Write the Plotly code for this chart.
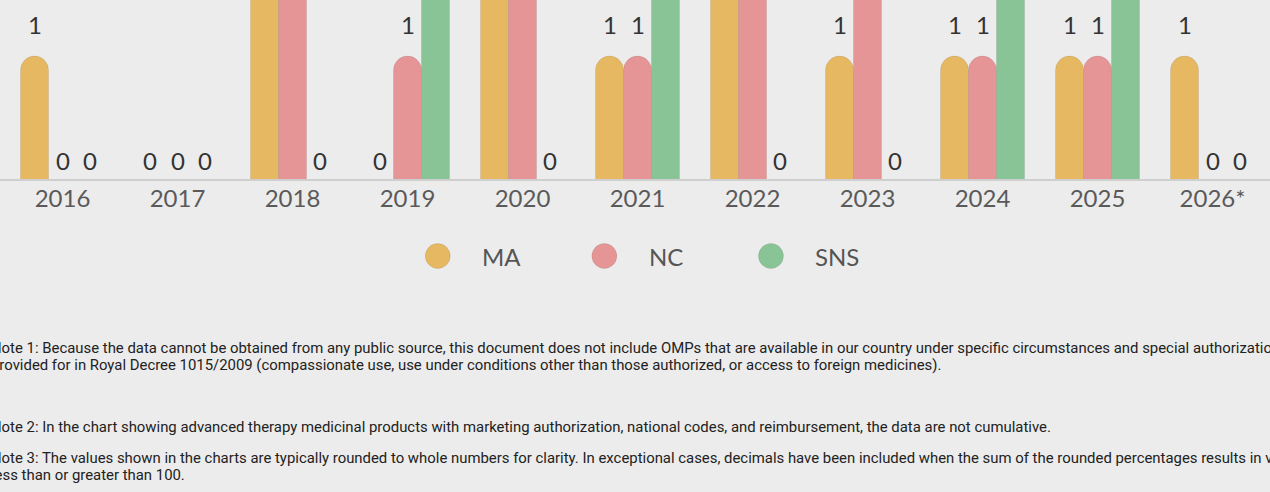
import plotly.graph_objects as go

# data (bars above ~1.45 run off the top of the visible area)
years = ["2016", "2017", "2018", "2019", "2020", "2021", "2022", "2023", "2024", "2025", "2026*"]
ma = [1, 0, 2, 0, 2, 1, 2, 1, 1, 1, 1]
nc = [0, 0, 2, 1, 2, 1, 2, 2, 1, 1, 0]
sns = [0, 0, 0, 2, 0, 3, 0, 0, 3, 2, 0]

series = ["MA", "NC", "SNS"]
colors = ["#E6B862", "#E59595", "#89C497"]

notes = [
    "Note 1: Because the data cannot be obtained from any public source, this document does not include OMPs that are available in our country under specific circumstances and special authorization as",
    "provided for in Royal Decree 1015/2009 (compassionate use, use under conditions other than those authorized, or access to foreign medicines).",
    "Note 2: In the chart showing advanced therapy medicinal products with marketing authorization, national codes, and reimbursement, the data are not cumulative.",
    "Note 3: The values shown in the charts are typically rounded to whole numbers for clarity. In exceptional cases, decimals have been included when the sum of the rounded percentages results in values",
    "less than or greater than 100.",
]

bg = "#ECECEC"
chart_font = "Lato"
slot_px = [-27.5, 0, 27.5]  # bar centre offsets inside each year group

fig = go.Figure()
for name, vals, col, dx in zip(series, [ma, nc, sns], colors, slot_px):
    fig.add_trace(go.Bar(
        x=years, y=vals, name=name,
        marker=dict(color=col, line=dict(color="rgba(0,0,0,0.08)", width=1)),
        cliponaxis=True, showlegend=False,
    ))
    # value labels: zeros sit right on the axis, the others float a bit higher
    # (category index used for x, "2016" etc. would be read as numbers)
    for i, v in enumerate(vals):
        fig.add_annotation(
            x=i, y=v, xshift=dx, yshift=(15 if v else 3), yanchor="bottom",
            text=str(v), showarrow=False,
            font=dict(family=chart_font, size=24, color="#333333"),
        )

fig.update_layout(
    width=1270, height=492,
    margin=dict(l=5, r=0, t=0, b=312),
    paper_bgcolor=bg, plot_bgcolor=bg,
    barmode="group", bargap=0.27, bargroupgap=0,
    barcornerradius=14,
    showlegend=False,
)
fig.update_xaxes(
    type="category", range=[-0.5, len(years) - 0.5],
    showgrid=False, ticks="", showline=False,
    ticklabelstandoff=2,
    tickfont=dict(family=chart_font, size=24, color="#5A5A5A"),
)
fig.update_yaxes(range=[0, 1.452], visible=False, showgrid=False, zeroline=False)

# baseline runs the full page width
fig.add_shape(type="line", xref="paper", yref="paper", x0=-0.005, x1=1, y0=0, y1=0,
              line=dict(color="#CFCFCF", width=2), layer="above")

# legend drawn by hand so the dots can be large
leg_dot_x = [0.3421, 0.4738, 0.6055]
leg_txt_x = [0.3755, 0.5075, 0.6387]
for name, col, dx, tx in zip(series, colors, leg_dot_x, leg_txt_x):
    fig.add_shape(
        type="circle", xref="paper", yref="paper",
        xsizemode="pixel", ysizemode="pixel",
        xanchor=dx, yanchor=0,
        x0=-12.5, x1=12.5, y0=-88.5, y1=-63.5,
        fillcolor=col, line=dict(color="rgba(0,0,0,0.08)", width=1),
    )
    fig.add_annotation(
        xref="paper", yref="paper", x=tx, y=0, xanchor="left", yanchor="middle",
        yshift=-76, text=name, showarrow=False,
        font=dict(family=chart_font, size=24, color="#555555"),
    )

# footnotes, left edge runs slightly off the page
note_shift = [-168, -185, -247, -278, -295]
for line, ys in zip(notes, note_shift):
    fig.add_annotation(
        xref="paper", yref="paper", x=0, y=0, xanchor="left", yanchor="middle",
        xshift=-16, yshift=ys, text=line, showarrow=False, align="left",
        font=dict(family="Roboto", size=14.9, color="#222222"),
    )

fig.write_html("out.html", config={"displayModeBar": False},
               post_script="document.body.style.margin='0';")
